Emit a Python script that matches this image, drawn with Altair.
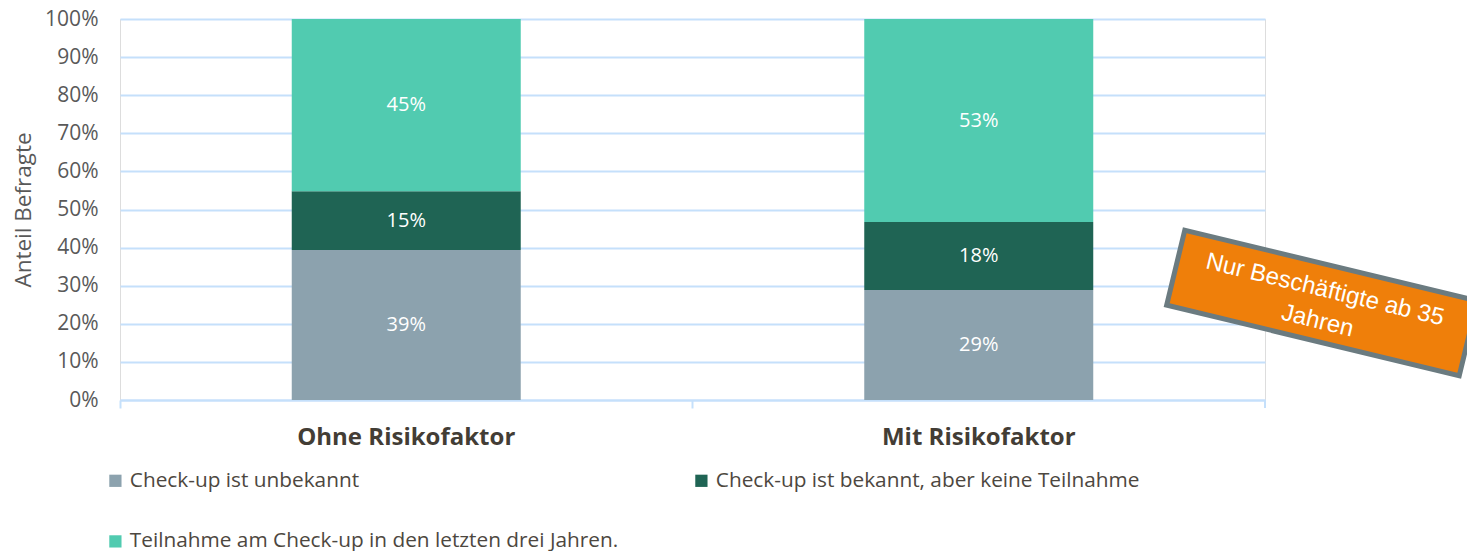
import altair as alt
import pandas as pd

categories = ["Ohne Risikofaktor", "Mit Risikofaktor"]
series = [
    "Check-up ist unbekannt",
    "Check-up ist bekannt, aber keine Teilnahme",
    "Teilnahme am Check-up in den letzten drei Jahren.",
]
colors = ["#8ca2ae", "#1f6454", "#51cbb0"]
values_ohne = [0.394, 0.154, 0.452]
values_mit = [0.289, 0.178, 0.533]
y_ticks = [0, 0.1, 0.2, 0.3, 0.4, 0.5, 0.6, 0.7, 0.8, 0.9, 1.0]
note_lines = ["Nur Beschäftigte ab 35", "Jahren"]

rows = []
for cat, vals in zip(categories, [values_ohne, values_mit]):
    for i, (s, v) in enumerate(zip(series, vals)):
        rows.append({"cat": cat, "series": s, "order": i, "value": v})
df = pd.DataFrame(rows)

W, H = 1145, 381
FONT = "Open Sans"
GRID = "#c5e0fb"
TXT = "#595959"

base = (
    alt.Chart(df)
    .transform_stack(stack="value", groupby=["cat"], as_=["y0", "y1"],
                     sort=[alt.SortField("order")])
    .transform_calculate(ymid="(datum.y0 + datum.y1) / 2")
)

x_axis = alt.Axis(title=None, labelAngle=0, labelFont=FONT, labelFontSize=24,
                  labelFontWeight="bold", labelColor="#433d35", labelLimit=600,
                  domainColor=GRID, domainWidth=2, tickColor=GRID, tickWidth=2,
                  tickSize=8, bandPosition=0, labelPadding=17, grid=False)
x_scale = alt.Scale(paddingInner=0, paddingOuter=0)
y_axis = alt.Axis(title="Anteil Befragte", values=y_ticks, format=".0%",
                  labelOverlap=False, labelFont=FONT, labelFontSize=21,
                  labelColor=TXT, ticks=False, domain=False,
                  labelPadding=22, gridColor=GRID, gridWidth=2,
                  titleFont=FONT, titleFontSize=22.5,
                  titleFontWeight="normal", titleColor=TXT,
                  titleX=-97, titleY=H / 2, titleBaseline="middle",
                  titleAngle=-90)
y_scale = alt.Scale(domain=[0, 1], nice=False)

bars = base.mark_bar(width=alt.RelativeBandSize(band=0.4)).encode(
    x=alt.X("cat:N", sort=categories, scale=x_scale, axis=x_axis),
    y=alt.Y("y0:Q", scale=y_scale, axis=y_axis),
    y2="y1:Q",
    color=alt.Color("series:N", scale=alt.Scale(domain=series, range=colors),
                    legend=alt.Legend(title=None, orient="none", legendX=-15,
                                      legendY=451, direction="horizontal",
                                      columns=2, columnPadding=72, rowPadding=39,
                                      symbolType="square", symbolSize=150,
                                      symbolStrokeWidth=0, labelFont=FONT,
                                      labelFontSize=20.8, labelColor="#4d4740",
                                      labelOffset=4, labelLimit=700, padding=0)),
)

labels = base.mark_text(font=FONT, fontSize=20, color="white").encode(
    x=alt.X("cat:N", sort=categories, scale=x_scale, axis=x_axis),
    y=alt.Y("ymid:Q", scale=y_scale, axis=y_axis),
    text=alt.Text("value:Q", format=".0%"),
)

end_tick = alt.Chart(pd.DataFrame({"t": [0]})).mark_rule(color=GRID, strokeWidth=2).encode(
    x=alt.value(W), y=alt.value(H), y2=alt.value(H + 8)
)

box_path = "M-1,-0.256L1,-0.256L1,0.256L-1,0.256Z"
note_box = alt.Chart(pd.DataFrame({"t": [0]})).mark_point(
    shape=box_path, size=301 * 301, angle=13.6, filled=True,
    fill="#ef7f0a", stroke="#6b7b80", strokeWidth=5, opacity=1,
).encode(x=alt.value(1202), y=alt.value(284))

note_text = alt.Chart(pd.DataFrame({"t": [0]})).mark_text(
    text=note_lines, angle=13.6, font="Liberation Sans", fontSize=24,
    color="white", align="center", baseline="middle", lineHeight=32,
).encode(x=alt.value(1205), y=alt.value(271))

chart = (
    alt.layer(bars, labels, end_tick, note_box, note_text)
    .properties(width=W, height=H,
                autosize=alt.AutoSizeParams(type="none"),
                padding={"left": 112, "top": 11, "right": 202, "bottom": 151})
    .configure_view(stroke=None)
    .configure(background="white")
)

chart.save("out.html", embed_options={"renderer": "svg", "actions": False})
